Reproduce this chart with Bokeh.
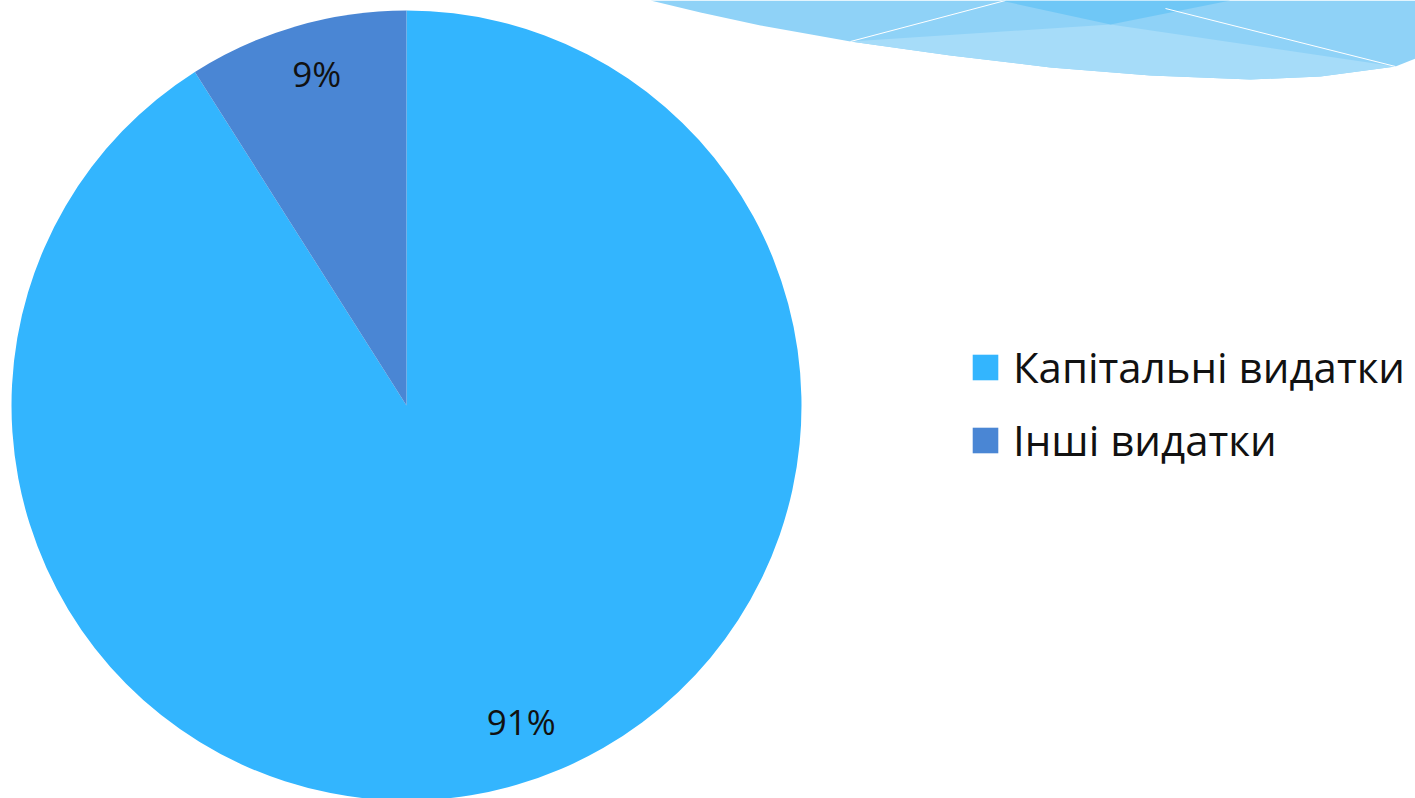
import math
from bokeh.plotting import figure
from bokeh.models import ColumnDataSource, Legend, LegendItem, Range1d
from bokeh.core.properties import value
from bokeh.embed import file_html
from bokeh.resources import INLINE

# ---- data ----
categories = ["Капітальні видатки", "Інші видатки"]
shares = [91, 9]
labels = ["91%", "9%"]
colors = ["#33b5fe", "#4a86d4"]

W, H = 1415, 798
FONT = "Open Sans"

# pie geometry (screen px, y measured from bottom)
cx, cy, R = 406, H - 405, 395

total = sum(shares)
starts, ends, mids = [], [], []
a = math.pi / 2
for s in shares:
    span = 2 * math.pi * s / total
    starts.append(a)
    ends.append(a - span)
    mids.append(a - span / 2)
    a -= span

# label nudges (px) to mimic the original's label placement
nudge_x = [20, 5]
nudge_y = [10, 6]

src = ColumnDataSource(dict(
    x=[cx] * len(shares), y=[cy] * len(shares),
    start=starts, end=ends, color=colors, cat=categories,
    lx=[cx + 0.86 * R * math.cos(m) + dx for m, dx in zip(mids, nudge_x)],
    ly=[cy + 0.86 * R * math.sin(m) + dy for m, dy in zip(mids, nudge_y)],
    lab=labels,
))

p = figure(width=W, height=H, output_backend="svg", toolbar_location=None,
           x_range=Range1d(0, W), y_range=Range1d(0, H),
           x_axis_location=None, y_axis_location=None, min_border=0,
           outline_line_color=None, background_fill_color="white",
           border_fill_color="white")
p.grid.visible = False

# ---- decorative swoosh at top right ----
def sy(v):
    return H - v

lower = [(650, 0), (700, 12), (760, 25), (850, 41), (950, 55), (1050, 67),
         (1150, 75), (1250, 79), (1320, 76), (1395, 66), (1415, 58)]
xs = [pt[0] for pt in lower] + [1415, 650]
ys = [sy(pt[1]) for pt in lower] + [H, H]
p.patch(xs, ys, fill_color="#8fd2f7", line_color=None)
bx = [pt[0] for pt in lower[3:10]] + [1395, 1110]
by = [sy(pt[1]) for pt in lower[3:10]] + [sy(66), sy(24)]
p.patch(bx, by, fill_color="#a6dcf9", line_color=None)
p.patch([1000, 1230, 1110], [sy(0), sy(0), sy(24)], fill_color="#6fc7f6", line_color=None)
p.line([850, 1005], [sy(41), sy(0)], line_color="white", line_width=1)
p.line([1165, 1395], [sy(8), sy(66)], line_color="white", line_width=1)

# ---- pie ----
r = p.wedge(x="x", y="y", radius=R, start_angle="start", end_angle="end",
            direction="clock", fill_color="color", line_color=None, source=src)

p.text(x="lx", y="ly", text="lab", source=src, text_align="center",
       text_baseline="middle", text_font=value(FONT), text_font_size="35px",
       text_color="#111111")

legend = Legend(items=[LegendItem(label=c, renderers=[r], index=i)
                       for i, c in enumerate(categories)],
                location=(969, H - 468), padding=0, margin=0,
                border_line_color=None, background_fill_alpha=0,
                glyph_width=32, glyph_height=32, label_standoff=12,
                spacing=16, label_text_font=FONT, label_text_font_size="42px",
                label_text_color="#111111", label_text_baseline="middle")
p.add_layout(legend, "center")

open("out.html", "w").write(file_html(p, INLINE))
